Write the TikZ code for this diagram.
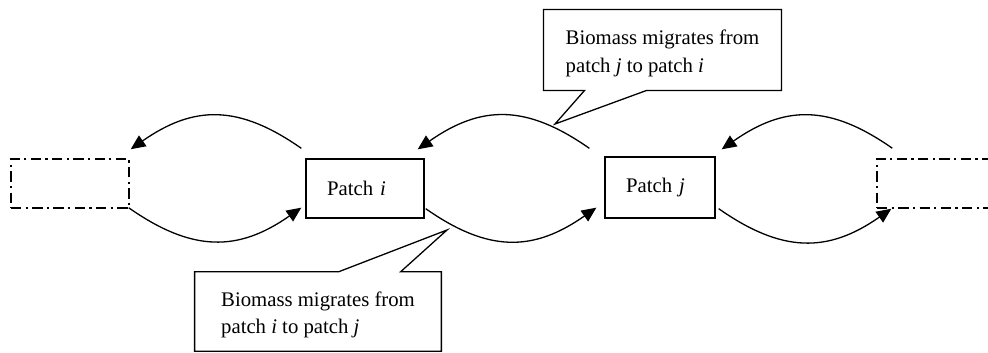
\documentclass[tikz,border=0pt]{standalone}
\usepackage{fontspec}
\setmainfont{Liberation Serif}
\usetikzlibrary{arrows.meta,positioning}
\tikzset{
  font=\fontsize{12}{16}\selectfont,
  patch/.style={
    draw,
    line width=0.75pt,
    align=left,
    minimum height=12mm,
    inner xsep=4.3mm,
    inner ysep=0pt
  },
  offpatch/.style={
    draw,
    line width=0.75pt,
    dash pattern=on 6pt off 2.5pt on 1.3pt off 2.5pt,
    minimum width=24mm,
    minimum height=10mm,
    inner sep=0pt
  },
  note/.style={
    align=left,
    inner sep=0pt
  },
  outline/.style={draw, fill=white, line width=0.75pt},
  flow/.style={-{Triangle[length=8.5pt,width=7.5pt]}, line width=0.75pt, looseness=1.15}
}

\begin{document}
\begin{tikzpicture}[x=0.2032mm,y=0.2032mm]
\path[use as bounding box, clip] (0,0) rectangle (988,352);

% Patches in a row
\node[offpatch] (lw) at (70,168.5) {};
\node[patch, text width=15.4mm] (pi) at (365,163.5) {Patch \textit{i}};
\node[patch, text width=13.75mm, minimum height=12.4mm] (pj) at (660,164.5) {Patch \textit{j}};
\node[offpatch] (rw) at (936,168.5) {};

% Migration arrows (top: leftwards, bottom: rightwards)
\draw[flow] ([shift={(-4,10)}]pi.north west) to[out=145,in=35] ([shift={(1,9)}]lw.north east);
\draw[flow] ([shift={(-1,1)}]lw.south east) to[out=-35,in=-145] ([shift={(-4,11)}]pi.south west);
\draw[flow] ([shift={(-15,8)}]pj.north west) to[out=145,in=35] ([shift={(-7,9)}]pi.north east);
\draw[flow] ([shift={(1,10)}]pi.south east) to[out=-35,in=-145] ([shift={(-8,11)}]pj.south west);
\draw[flow] ([shift={(16,10)}]rw.north west) to[out=145,in=35] ([shift={(6,7)}]pj.north east);
\draw[flow] ([shift={(3,10)}]pj.south east) to[out=-35,in=-145] ([shift={(15,0)}]rw.south west);

% Callouts
\coordinate (ijtip) at (447,122);
\coordinate (jitip) at (555,228);
\node[note, minimum width=50mm, minimum height=16mm] (ij) at (318,40.5) {};
\draw[outline] (ij.north west) -- ([shift={(144,0)}]ij.north west) -- (ijtip)
  -- ([shift={(206,0)}]ij.north west) -- (ij.north east) -- (ij.south east) -- (ij.south west) -- cycle;
\node[note] (ijtext) at ([yshift=-2pt]ij.center) {Biomass migrates from\\patch \textit{i} to patch \textit{j}};
\node[note, minimum width=48.2mm, minimum height=16.3mm] (ji) at (662.5,302) {};
\draw[outline] (ji.north west) -- (ji.north east) -- (ji.south east)
  -- ([shift={(103,0)}]ji.south west) -- (jitip) -- ([shift={(41,0)}]ji.south west) -- (ji.south west) -- cycle;
\node[note] (jitext) at ([yshift=-2pt]ji.center) {Biomass migrates from\\patch \textit{j} to patch \textit{i}};

\end{tikzpicture}
\end{document}
